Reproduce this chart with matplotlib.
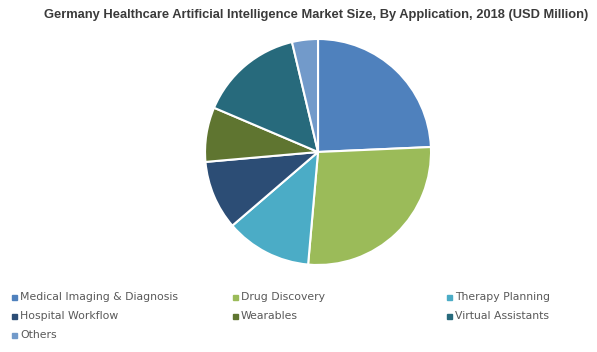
import matplotlib
matplotlib.use("Agg")
import matplotlib.pyplot as plt
from matplotlib.patches import Rectangle

# market share by application (%)
labels = ["Medical Imaging & Diagnosis", "Drug Discovery", "Therapy Planning",
          "Hospital Workflow", "Wearables", "Virtual Assistants", "Others"]
shares = [24.3, 27.1, 12.3, 9.9, 7.8, 14.9, 3.7]
colors = ["#4F81BD", "#9BBB59", "#4BACC6", "#2C4D75", "#5F7530", "#276A7C", "#729ACA"]

title = "Germany Healthcare Artificial Intelligence Market Size, By Application, 2018 (USD Million)"

fig = plt.figure(figsize=(5.97, 3.52), dpi=100)
fig.patch.set_facecolor("white")

ax = fig.add_axes([0.3434, 0.2472, 0.3786, 0.642])
ax.pie(shares, colors=colors, startangle=90, counterclock=False,
       wedgeprops=dict(edgecolor="white", linewidth=1.5))
ax.set_xlim(-1, 1)
ax.set_ylim(-1, 1)
ax.set_aspect("equal")
ax.axis("off")

fig.text(0.529, 0.958, title, ha="center", va="center", fontsize=9.3,
         fontweight="bold", family="Liberation Sans", color="#3a3a3a")

# legend, 3 columns
col_x = [12, 233, 447]
row_y = [297, 316, 335]
W, H = 597.0, 352.0
for i, (lab, c) in enumerate(zip(labels, colors)):
    x = col_x[i % 3]
    y = row_y[i // 3]
    fig.add_artist(Rectangle((x / W, (H - y - 2.5) / H), 4.5 / W, 4.5 / H,
                             transform=fig.transFigure, color=c))
    fig.text((x + 8) / W, (H - y) / H, lab, ha="left", va="center",
             fontsize=7.8, color="#595959")

fig.savefig("out.png", dpi=100)
